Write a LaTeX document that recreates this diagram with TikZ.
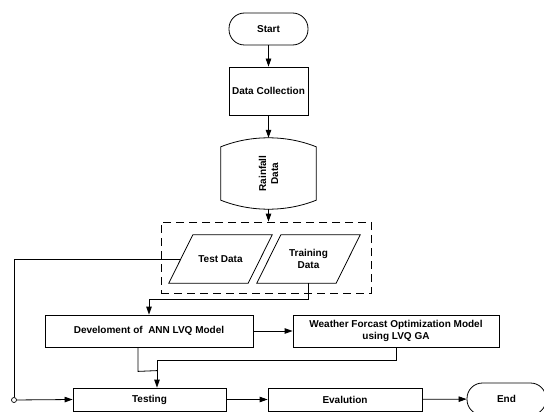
\documentclass[tikz,border=0pt]{standalone}
\usepackage{fontspec}
\setmainfont{Liberation Sans}
\usetikzlibrary{arrows.meta,calc,positioning}
\begin{document}
\begin{tikzpicture}[x=1pt,y=-1pt,
  every node/.style={font=\fontsize{10}{12}\selectfont\bfseries, inner sep=0pt, align=center},
  box/.style={draw, line width=0.8pt, minimum width=#1},
  term/.style={draw, line width=0.8pt, rounded corners=15.5pt, minimum width=79pt, minimum height=32pt},
  line/.style={line width=0.8pt},
  arr/.style={line width=0.8pt, -{Triangle[length=8pt,width=5.5pt]}},
  shp/.style={line width=0.8pt}
]
\useasboundingbox (0,0) rectangle (544,412);

\node[term] (start) at (268.5,29) {Start};
\node[box=79pt, minimum height=48pt] (dc) at (268.5,91) {Data Collection};
\node[minimum width=95pt, minimum height=71pt] (rain) at (268.5,173.5) {};
\draw[shp] ($(rain.north west)+(0,9)$) .. controls ($(rain.north west)+(30,-3)$) and ($(rain.north east)+(-30,-3)$) .. ($(rain.north east)+(0,9)$)
  -- ($(rain.south east)+(0,-9)$) .. controls ($(rain.south east)+(-30,3)$) and ($(rain.south west)+(30,3)$) .. ($(rain.south west)+(0,-9)$) -- cycle;
\node[rotate=90] (raintxt) at (rain.center) {Rainfall\\Data};

\node[draw, dashed, dash pattern=on 8pt off 5pt, line width=0.8pt, minimum width=210pt, minimum height=71pt] (grp) at (266,257.5) {};

\node[minimum width=103pt, minimum height=48pt] (test) at (220.5,259) {Test Data};
\draw[shp] ($(test.north west)+(24,0)$) -- (test.north east) -- ($(test.south east)+(-24,0)$) -- (test.south west) -- cycle;
\node[minimum width=103pt, minimum height=48pt] (train) at (308.5,259) {Training\\Data};
\draw[shp] ($(train.north west)+(24,0)$) -- (train.north east) -- ($(train.south east)+(-24,0)$) -- (train.south west) -- cycle;

\node[box=208pt, minimum height=32pt] (dev) at (149,331) {Develoment of\ \ ANN LVQ Model};
\node[box=206pt, minimum height=32pt] (wea) at (396,331) {Weather Forcast Optimization Model\\using LVQ GA};

\node[box=153pt, minimum height=23pt] (testing) at (149.5,399.5) {Testing};
\node[box=154pt, minimum height=23pt] (eval) at (345,399.5) {Evalution};
\node[term] (end) at (506.5,399) {End};

\node[circle, draw, line width=0.7pt, minimum size=5pt, fill=white] (c) at (14,400) {};

\draw[arr] (start) -- (dc);
\draw[arr] (dc) -- (rain.north);
\draw[arr] (rain.south) -- (rain.south |- grp.north);
\draw[arr] (train.south) -- ++(0,16) -| (dev.north);
\draw[arr] (dev) -- (wea);
\draw[line] ($(dev.south)+(-11,0)$) -- ++(0,24) -- ($(testing.north)+(7.5,-17)$);
\draw[arr] (wea.south) -- ++(0,13) -| ($(testing.north)+(7.5,0)$);
\draw[line] ($(test.west)+(12,0)$) -| (c);
\draw[arr] (c) -- (testing.west);
\draw[arr] (testing) -- (eval);
\draw[arr] (eval) -- (end);
\end{tikzpicture}
\end{document}
